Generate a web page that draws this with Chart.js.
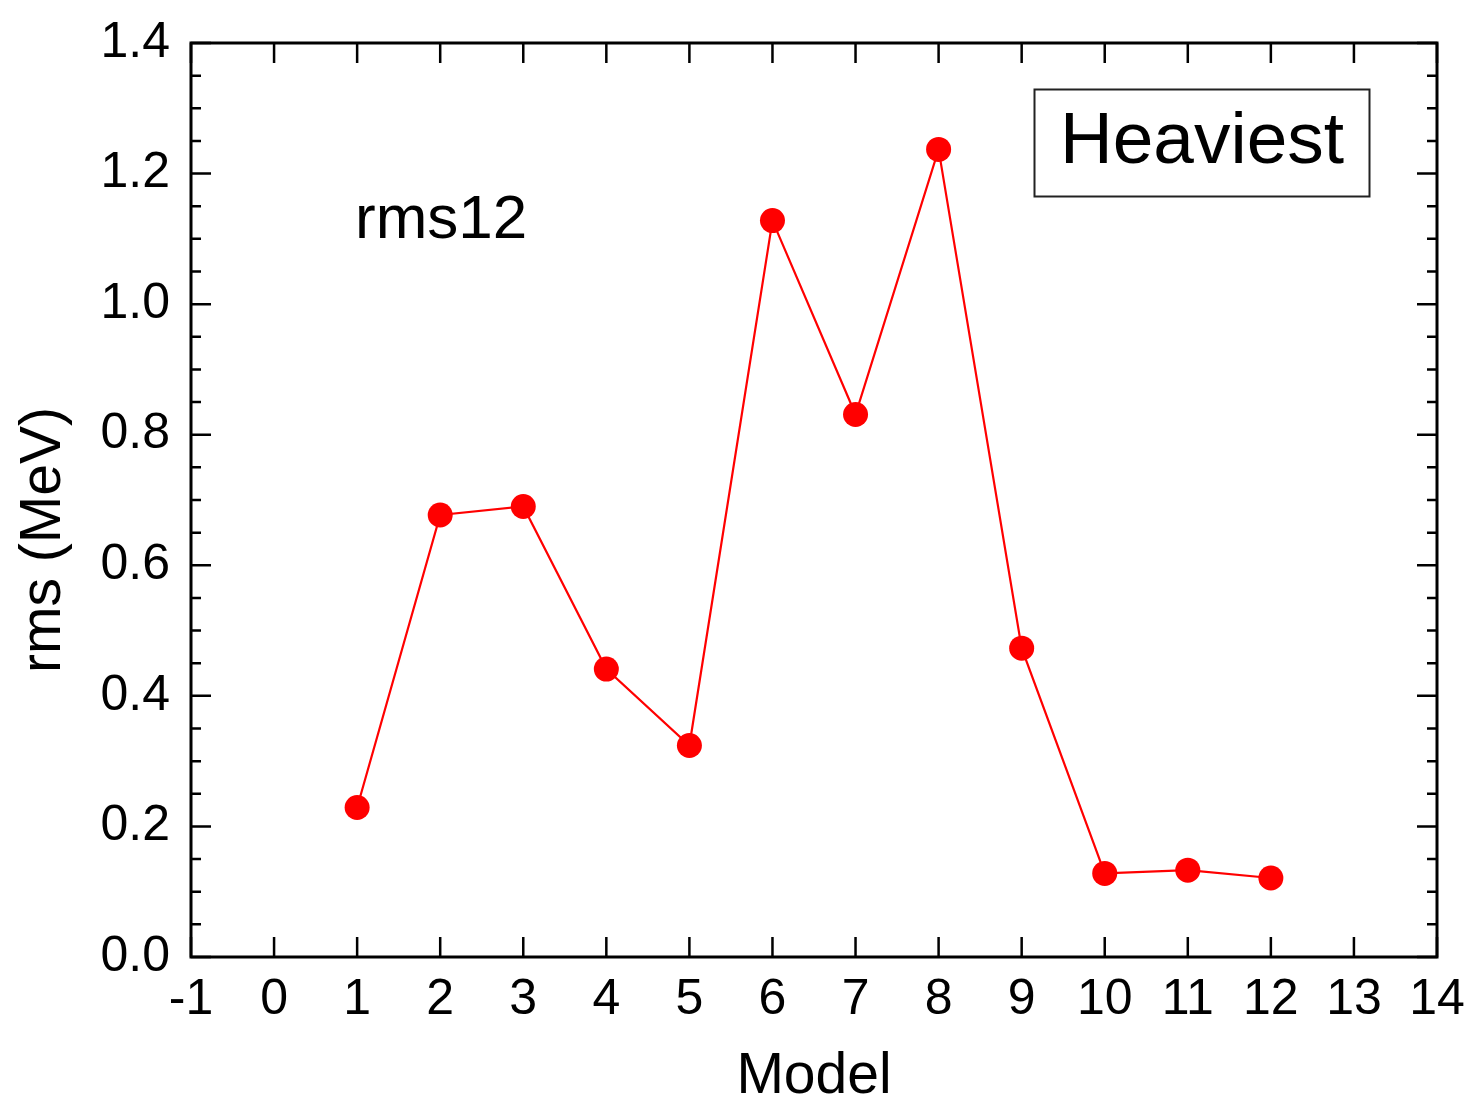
<!DOCTYPE html>
<html>
<head>
<meta charset="utf-8">
<script src="https://cdn.jsdelivr.net/npm/chart.js@4/dist/chart.umd.min.js"></script>
<style>
html,body{margin:0;padding:0;background:#fff;}
#wrap{width:1470px;height:1100px;position:relative;}
</style>
</head>
<body>
<div id="wrap"><canvas id="c" width="1470" height="1100"></canvas></div>
<script>
const models = [1, 2, 3, 4, 5, 6, 7, 8, 9, 10, 11, 12];
const rmsValues = [0.229, 0.677, 0.690, 0.441, 0.324, 1.128, 0.831, 1.237, 0.473, 0.128, 0.133, 0.121];
const xTicks = [-1, 0, 1, 2, 3, 4, 5, 6, 7, 8, 9, 10, 11, 12, 13, 14];
const yTicks = [0.0, 0.2, 0.4, 0.6, 0.8, 1.0, 1.2, 1.4];
const yMinorStep = 0.05;
const seriesLabel = "rms12";
const boxLabel = "Heaviest";
const xTitle = "Model";
const yTitle = "rms (MeV)";

const FONT = "'Liberation Sans', Arial, Helvetica, sans-serif";

const framePlugin = {
  id: 'frame',
  afterDraw(chart) {
    const ctx = chart.ctx;
    const a = chart.chartArea;
    const xs = chart.scales.x, ys = chart.scales.y;
    ctx.save();
    ctx.strokeStyle = '#000';
    ctx.lineWidth = 2.5;
    ctx.beginPath();
    xTicks.forEach(v => {
      const px = xs.getPixelForValue(v);
      ctx.moveTo(px, a.bottom); ctx.lineTo(px, a.bottom - 20);
      ctx.moveTo(px, a.top); ctx.lineTo(px, a.top + 20);
    });
    const yMin = yTicks[0], yMax = yTicks[yTicks.length - 1];
    const n = Math.round((yMax - yMin) / yMinorStep);
    for (let i = 0; i <= n; i++) {
      const v = yMin + i * yMinorStep;
      const py = ys.getPixelForValue(v);
      const major = (i % 4 === 0);
      const len = major ? 20 : 10;
      ctx.moveTo(a.left, py); ctx.lineTo(a.left + len, py);
      ctx.moveTo(a.right, py); ctx.lineTo(a.right - len, py);
    }
    ctx.stroke();
    ctx.lineWidth = 3;
    ctx.strokeRect(a.left, a.top, a.right - a.left, a.bottom - a.top);

    ctx.lineWidth = 2;
    ctx.strokeStyle = '#222';
    ctx.strokeRect(1034.5, 89.5, 335, 107);
    ctx.fillStyle = '#000';
    ctx.font = "73px " + FONT;
    ctx.textAlign = 'center';
    ctx.textBaseline = 'middle';
    ctx.fillText(boxLabel, 1202, 143);

    ctx.font = "62px " + FONT;
    ctx.textAlign = 'left';
    ctx.fillText(seriesLabel, 355, 221);

    ctx.font = "57px " + FONT;
    ctx.textAlign = 'center';
    ctx.fillText(xTitle, (a.left + a.right) / 2, 1077);
    ctx.save();
    ctx.translate(44, 540);
    ctx.rotate(-Math.PI / 2);
    ctx.fillText(yTitle, 0, 0);
    ctx.restore();
    ctx.restore();
  }
};

new Chart(document.getElementById('c'), {
  type: 'line',
  data: {
    datasets: [{
      label: seriesLabel,
      data: models.map((m, i) => ({x: m, y: rmsValues[i]})),
      borderColor: '#ff0000',
      backgroundColor: '#ff0000',
      borderWidth: 2.2,
      pointRadius: 12.5,
      pointBorderWidth: 0,
      pointBackgroundColor: '#ff0000',
      tension: 0
    }]
  },
  options: {
    responsive: false,
    animation: false,
    events: [],
    layout: { padding: { top: 43, right: 33, left: 0, bottom: 0 } },
    plugins: { legend: { display: false }, tooltip: { enabled: false } },
    scales: {
      x: {
        type: 'linear',
        min: xTicks[0], max: xTicks[xTicks.length - 1],
        afterBuildTicks: s => { s.ticks = xTicks.map(v => ({value: v})); },
        afterFit: s => { s.height = 143; s.paddingLeft = 0; s.paddingRight = 0; },
        grid: { display: false, drawTicks: false },
        border: { display: false },
        ticks: { color: '#000', font: { size: 50, family: FONT }, padding: 13, maxRotation: 0, autoSkip: false,
                 callback: v => String(v) }
      },
      y: {
        type: 'linear',
        min: yTicks[0], max: yTicks[yTicks.length - 1],
        afterBuildTicks: s => { s.ticks = yTicks.map(v => ({value: v})); },
        afterFit: s => { s.width = 191; s.paddingTop = 0; s.paddingBottom = 0; },
        grid: { display: false, drawTicks: false },
        border: { display: false },
        ticks: { color: '#000', font: { size: 50, family: FONT }, padding: 21, autoSkip: false,
                 callback: v => Number(v).toFixed(1) }
      }
    }
  },
  plugins: [framePlugin]
});
</script>
</body>
</html>
